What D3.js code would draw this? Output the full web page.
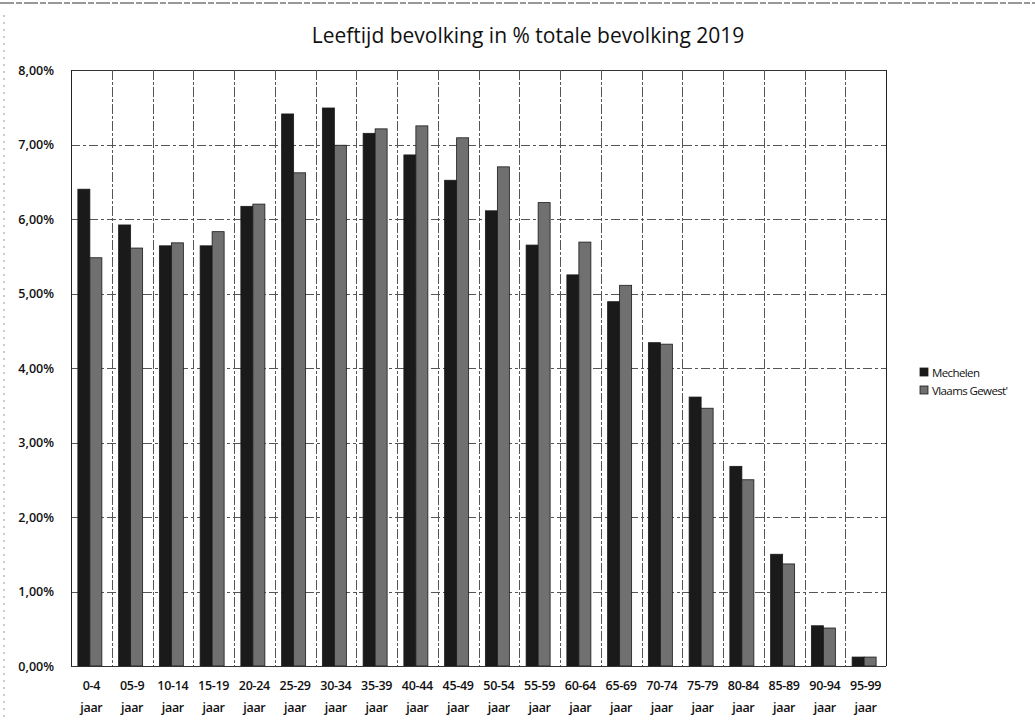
<!DOCTYPE html>
<html>
<head>
<meta charset="utf-8">
<script src="https://cdn.jsdelivr.net/npm/d3@7/dist/d3.min.js"></script>
<style>
  html, body { margin: 0; padding: 0; background: #fff; }
  svg { display: block; }
  text { font-family: "Open Sans", "DejaVu Sans", sans-serif; fill: #111; }
</style>
</head>
<body>
<svg id="chart" width="1035" height="722"></svg>
<script>
// ---- data ----
const title = "Leeftijd bevolking in % totale bevolking 2019";
const categories = ["0-4", "05-9", "10-14", "15-19", "20-24", "25-29", "30-34", "35-39", "40-44", "45-49",
                    "50-54", "55-59", "60-64", "65-69", "70-74", "75-79", "80-84", "85-89", "90-94", "95-99"];
const categorySuffix = "jaar";
const seriesNames = ["Mechelen", "Vlaams Gewest'"];
const mechelen = [6.40, 5.92, 5.64, 5.64, 6.17, 7.41, 7.49, 7.15, 6.86, 6.52,
                  6.11, 5.65, 5.25, 4.89, 4.34, 3.61, 2.68, 1.50, 0.54, 0.12];
const vlaams   = [5.48, 5.61, 5.68, 5.83, 6.20, 6.62, 6.99, 7.21, 7.25, 7.09,
                  6.70, 6.22, 5.69, 5.11, 4.32, 3.46, 2.50, 1.37, 0.51, 0.12];
const yTicks = [0, 1, 2, 3, 4, 5, 6, 7, 8];

// ---- layout ----
const svg = d3.select("#chart");
const plot = { left: 71, right: 886, top: 70, bottom: 666 };
const colors = ["#1a1a1a", "#707070"];

const x0 = d3.scaleBand().domain(categories).range([plot.left, plot.right]).paddingInner(0).paddingOuter(0);
const groupW = 24;
const x1 = d3.scaleBand().domain(seriesNames).range([0, groupW]).padding(0);
const y = d3.scaleLinear().domain([0, 8]).range([plot.bottom, plot.top]);

// chart-area decorations (scan border)
svg.append("line").attr("x1", 0).attr("x2", 1035).attr("y1", 3).attr("y2", 3)
  .attr("stroke", "#333").attr("stroke-width", 1).attr("stroke-dasharray", "14,2,6,2");
svg.append("line").attr("x1", 4).attr("x2", 4).attr("y1", 15).attr("y2", 722)
  .attr("stroke", "#999").attr("stroke-width", 1).attr("stroke-dasharray", "2,5");

// horizontal gridlines
svg.append("g").selectAll("line").data(yTicks).join("line")
  .attr("x1", plot.left).attr("x2", plot.right)
  .attr("y1", d => Math.round(y(d)) + 0.5).attr("y2", d => Math.round(y(d)) + 0.5)
  .attr("stroke", d => d === 8 ? "#333" : "#555")
  .attr("stroke-width", 1)
  .attr("stroke-dasharray", d => (d === 0 || d === 8) ? null : "9,3,3,3");

// vertical gridlines (category boundaries)
const bounds = categories.map(c => x0(c)).concat([plot.right]);
svg.append("g").selectAll("line").data(bounds).join("line")
  .attr("x1", d => Math.round(d) + 0.5).attr("x2", d => Math.round(d) + 0.5)
  .attr("y1", plot.top).attr("y2", plot.bottom)
  .attr("stroke", (d, i) => (i === 0 || i === bounds.length - 1) ? "#222" : "#555")
  .attr("stroke-width", 1)
  .attr("stroke-dasharray", (d, i) => (i === 0 || i === bounds.length - 1) ? null : "10,2,3,2");

// bars
const rows = categories.map((c, i) => ({ cat: c, vals: [mechelen[i], vlaams[i]] }));
const groups = svg.append("g").selectAll("g").data(rows).join("g")
  .attr("transform", d => `translate(${x0(d.cat) + (x0.bandwidth() - groupW) / 2 - 1.5},0)`);
groups.selectAll("rect").data(d => d.vals.map((v, k) => ({ v, s: seriesNames[k], k }))).join("rect")
  .attr("x", d => x1(d.s))
  .attr("width", x1.bandwidth())
  .attr("y", d => y(d.v))
  .attr("height", d => y(0) - y(d.v))
  .attr("fill", d => colors[d.k])
  .attr("stroke", "#1a1a1a")
  .attr("stroke-width", 0.8);

// axis line
svg.append("line").attr("x1", plot.left).attr("x2", plot.right)
  .attr("y1", plot.bottom + 0.5).attr("y2", plot.bottom + 0.5).attr("stroke", "#333");

// y labels
const yAxis = d3.axisLeft(y).tickValues(yTicks).tickSize(0).tickPadding(17)
  .tickFormat(d => d3.format(".2f")(d).replace(".", ",") + "%");
const ya = svg.append("g").attr("transform", `translate(${plot.left},0)`).call(yAxis);
ya.select(".domain").remove();
ya.selectAll("text").attr("font-size", 12.5).attr("font-family", "\"Open Sans\", sans-serif")
  .attr("fill", "#111").attr("font-weight", 600);

// x labels
const xl = svg.append("g").selectAll("text").data(categories).join("text")
  .attr("x", d => x0(d) + x0.bandwidth() / 2)
  .attr("text-anchor", "middle")
  .attr("font-size", 12.5)
  .attr("font-weight", 600)
  .attr("letter-spacing", -0.3)
  .attr("fill", "#111");
xl.append("tspan").attr("x", d => x0(d) + x0.bandwidth() / 2).attr("y", 690).text(d => d);
xl.append("tspan").attr("x", d => x0(d) + x0.bandwidth() / 2).attr("y", 712).text(categorySuffix);

// title
svg.append("text").attr("x", 528).attr("y", 43).attr("text-anchor", "middle")
  .attr("font-size", 21).attr("fill", "#222").text(title);

// legend
const legend = svg.append("g").selectAll("g").data(seriesNames).join("g")
  .attr("transform", (d, i) => `translate(920,${372 + i * 18})`);
legend.append("rect").attr("x", 0).attr("y", -4).attr("width", 8).attr("height", 8)
  .attr("fill", (d, i) => colors[i]).attr("stroke", "#1a1a1a").attr("stroke-width", 0.8);
legend.append("text").attr("x", 12).attr("y", 4.5).attr("font-size", 11.5)
  .attr("letter-spacing", -0.6).attr("fill", "#222").text(d => d);
</script>
</body>
</html>
